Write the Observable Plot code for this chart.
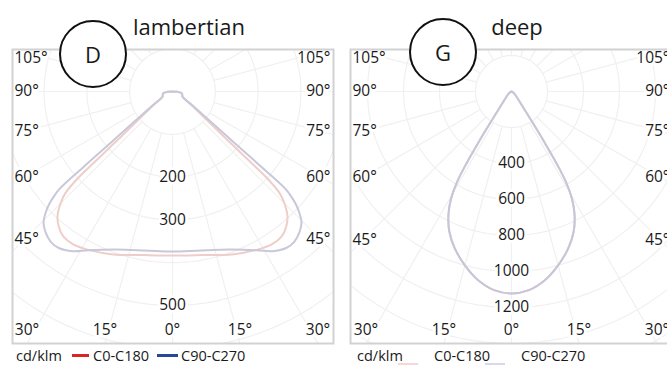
<!DOCTYPE html>
<html><head><meta charset="utf-8">
<script src="https://cdn.jsdelivr.net/npm/d3@7"></script>
<script src="https://cdn.jsdelivr.net/npm/@observablehq/plot@0.6"></script>
<style>
html,body{margin:0;padding:0;background:#fff;overflow:hidden;}
#wrap{position:relative;width:667px;height:365px;overflow:hidden;font-family:"Open Sans",sans-serif;color:#1a1a1a;}
.panel{position:absolute;top:0;width:340px;height:365px;}
.title{position:absolute;font-size:22px;transform:translate(-50%,-50%);white-space:nowrap;z-index:3;}
.badge{position:absolute;width:68px;height:68px;border:2px solid #111;border-radius:50%;background:#fff;box-sizing:border-box;display:flex;align-items:center;justify-content:center;font-size:22px;z-index:3;transform:translate(-50%,-50%);}
.plot{position:absolute;left:0;top:40px;z-index:1;}
.leg{position:absolute;font-size:14.5px;white-space:nowrap;transform:translateY(-50%);}
.sw{position:absolute;height:3px;}
</style>
</head><body>
<div id="wrap"></div>
<script>
// ---------- data ----------
// gamma angles (deg from nadir) and intensities (cd/klm), half-curves mirrored
const lambertC90Gamma = [0,10,20,28,32,36,39,42,44.5,46.3,47.6,48.5,49.2,49.7,50.3,51.9,55,63,72,80,86,90];
const lambertC90Values = [374,377,393,420,440,452,452,443,430,410,390,370,350,270,190,107,58,26,24,22,12,0];
const lambertC0Gamma = [0,10,20,28,33,37,40,42.6,45,46.5,47.5,47.8,48.5,50.4,54,63,72,80,86,90];
const lambertC0Values = [383,388,405,419,426,424,413,397,370,345,300,254,178,102,56,26,24,22,12,0];
const deepGamma = [0,5,10,15,20,24,27.3,29.5,31,32,33,34,36,40,50,60,90];
const deepC0Values = [1122,1108,1065,1000,925,850,763,680,590,480,330,220,120,60,25,10,0];
const deepC90Values = [1122,1108,1065,1000,925,850,763,680,590,480,330,220,120,60,25,10,0];

const lambertRings = [100,200,300,400,500,600,700];
const lambertRingLabels = [200,300,500];
const deepRings = [200,400,600,800,1000,1200,1400,1600];
const deepRingLabels = [400,600,800,1000,1200];

const sideAngles = [105,90,75,60,45];
const bottomAngles = [-30,-15,0,15,30];
const seriesNames = ["C0-C180","C90-C270"];
const unitLabel = "cd/klm";
const titles = ["lambertian","deep"];
const badges = ["D","G"];

// ---------- helpers ----------
const rad = d => d*Math.PI/180;
function curvePoints(gammas, values){
  const half = gammas.map((g,i)=>({g, v:values[i]}));
  const left = half.slice().reverse().map(p=>({g:-p.g, v:p.v}));
  return left.concat(half.slice(1)).map(p=>({x:p.v*Math.sin(rad(p.g)), y:p.v*Math.cos(rad(p.g))}));
}

function makePanel(cfg){
  const panel = document.createElement("div");
  panel.className = "panel";
  panel.style.left = cfg.offset + "px";
  document.getElementById("wrap").appendChild(panel);

  const W = 340, H = 306, top = 40;
  const fTop = 49 - top, fBot = 343 - top;
  const cy = 91 - top, cx = cfg.cx, k = cfg.k;
  const fl = cfg.fl, fr = cfg.fr;

  const ringPts = [];
  cfg.rings.forEach(r => { for(let a=0;a<=360;a+=3) ringPts.push({r, x:r*Math.sin(rad(a)), y:r*Math.cos(rad(a))}); });
  const rayPts = [];
  const rMax = cfg.rings[cfg.rings.length-1]*1.5;
  for(let a=0;a<360;a+=15){
    rayPts.push({a, x:cfg.rings[0]*Math.sin(rad(a)), y:cfg.rings[0]*Math.cos(rad(a))});
    rayPts.push({a, x:rMax*Math.sin(rad(a)), y:rMax*Math.cos(rad(a))});
  }
  const sideD = (cx - fl - 12)/k;
  const yTopLimit = (fTop + 9 - cy)/k;
  const sideY = g => Math.max(sideD*Math.cos(rad(g))/Math.sin(rad(g)), yTopLimit);
  const bottomD = (fBot - cy)/k;

  const halo = {stroke:"white", strokeWidth:6, fill:"#1a1a1a", fontSize:15.5};

  const svg = Plot.plot({
    width: W, height: H,
    marginLeft: fl, marginRight: W - fr, marginTop: fTop, marginBottom: H - fBot,
    x: {domain: [(fl - cx)/k, (fr - cx)/k], axis: null},
    y: {domain: [(fBot - cy)/k, (fTop - cy)/k], axis: null},
    style: {fontFamily: '"Open Sans", sans-serif', fontSize: "15.5px", background: "transparent", overflow: "visible"},
    marks: [
      Plot.line(ringPts, {x:"x", y:"y", z:"r", stroke:"#f0f0f0", strokeWidth:1.2, clip:"frame"}),
      Plot.line(rayPts, {x:"x", y:"y", z:"a", stroke:"#f0f0f0", strokeWidth:1.2, clip:"frame"}),
      ...cfg.curves.map(c => Plot.line(curvePoints(c.gamma, c.values), {x:"x", y:"y", stroke:c.color, strokeWidth:2, curve:"catmull-rom", clip:"frame"})),
      Plot.text(cfg.ringLabels, {x: () => 0, y: d => d, text: d => String(d), ...halo}),
      Plot.text(sideAngles, {frameAnchor:"left", y: sideY, text: d => d + "°", textAnchor:"start", dx:2, ...halo}),
      Plot.text(sideAngles, {frameAnchor:"right", y: sideY, text: d => d + "°", textAnchor:"end", dx:-3, ...halo}),
      Plot.text(bottomAngles, {frameAnchor:"bottom", x: d => bottomD*Math.tan(rad(d)), text: d => Math.abs(d) + "°", dy:-9, ...halo}),
      Plot.frame({stroke:"#d2d2d2", strokeWidth:2})
    ]
  });
  svg.classList.add("plot");
  panel.appendChild(svg);

  const t = document.createElement("div");
  t.className = "title"; t.textContent = cfg.title;
  t.style.left = cfg.titleX + "px"; t.style.top = "26px";
  panel.appendChild(t);
  const b = document.createElement("div");
  b.className = "badge"; b.textContent = cfg.badge;
  b.style.left = cfg.badgeX + "px"; b.style.top = cfg.badgeY + "px";
  panel.appendChild(b);

  cfg.legend.forEach(item => {
    if(item.text){
      const s = document.createElement("span");
      s.className = "leg"; s.textContent = item.text;
      s.style.left = item.x + "px"; s.style.top = "355px";
      panel.appendChild(s);
    } else {
      const s = document.createElement("div");
      s.className = "sw"; s.style.background = item.color;
      s.style.left = item.x + "px"; s.style.width = item.w + "px"; s.style.top = item.y + "px";
      panel.appendChild(s);
    }
  });
}

makePanel({
  offset: 0, cx: 172, k: 0.428, fl: 12, fr: 333,
  rings: lambertRings, ringLabels: lambertRingLabels,
  curves: [
    {gamma: lambertC0Gamma, values: lambertC0Values, color: "#efcdc8"},
    {gamma: lambertC90Gamma, values: lambertC90Values, color: "#c8c8da"}
  ],
  title: titles[0], titleX: 189, badge: badges[0], badgeX: 93, badgeY: 54,
  legend: [
    {text: unitLabel, x: 16},
    {color: "#d9242c", x: 72, w: 17, y: 354},
    {text: seriesNames[0], x: 93},
    {color: "#27479c", x: 157, w: 21, y: 354},
    {text: seriesNames[1], x: 181}
  ]
});
makePanel({
  offset: 340, cx: 171, k: 0.18, fl: 10, fr: 332,
  rings: deepRings, ringLabels: deepRingLabels,
  curves: [
    {gamma: deepGamma, values: deepC0Values, color: "#efcdc8"},
    {gamma: deepGamma, values: deepC90Values, color: "#c6c6da"}
  ],
  title: titles[1], titleX: 177, badge: badges[1], badgeX: 103, badgeY: 52,
  legend: [
    {text: unitLabel, x: 17},
    {color: "#f6d6d6", x: 58, w: 20, y: 363},
    {text: seriesNames[0], x: 94},
    {color: "#d6d8ee", x: 145, w: 20, y: 363},
    {text: seriesNames[1], x: 181}
  ]
});
</script>
</body></html>
